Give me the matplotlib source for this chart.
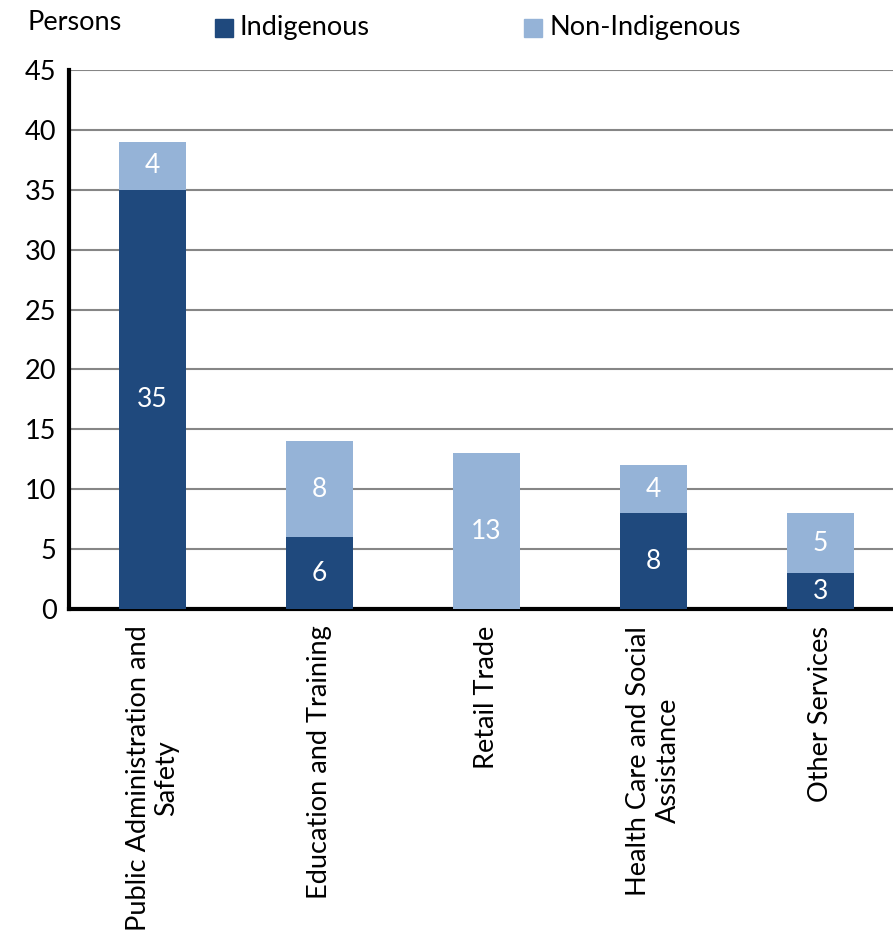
import matplotlib.pyplot as plt
from matplotlib.patches import Rectangle
import numpy as np

plt.rcParams['font.family'] = ['Lato', 'DejaVu Sans']

categories = ['Public Administration and\nSafety', 'Education and Training', 'Retail Trade',
              'Health Care and Social\nAssistance', 'Other Services']
indigenous = [35, 6, 0, 8, 3]
non_indigenous = [4, 8, 13, 4, 5]

dark = '#1F497D'
light = '#95B3D7'

fig = plt.figure(figsize=(8.93, 9.36), dpi=100)
# axes runs a little past the right edge, as in the original
ax = fig.add_axes([69/893, 1 - 609/936, 835/893, 539/936])

x = np.arange(len(categories))
ax.bar(x, indigenous, width=0.4, color=dark, zorder=3)
ax.bar(x, non_indigenous, width=0.4, bottom=indigenous, color=light, zorder=3)

for i in range(len(categories)):
    if indigenous[i] > 0:
        ax.text(x[i], indigenous[i] / 2, str(indigenous[i]), ha='center', va='center',
                color='white', fontsize=19, zorder=4)
    if non_indigenous[i] > 0:
        ax.text(x[i], indigenous[i] + non_indigenous[i] / 2, str(non_indigenous[i]),
                ha='center', va='center', color='white', fontsize=19, zorder=4)

ax.set_xlim(-0.5, len(categories) - 0.5)
ax.set_ylim(0, 45)
ax.set_yticks(range(0, 46, 5))
ax.yaxis.grid(True, color='#868686', linewidth=1.5, zorder=0)
ax.tick_params(axis='y', length=0, labelsize=19.5, pad=9)
ax.tick_params(axis='x', length=0, labelsize=19.5, pad=12)
ax.set_xticks(x)
ax.set_xticklabels(categories, rotation=90, va='top', ha='center', multialignment='center')
for s in ['top', 'right']:
    ax.spines[s].set_visible(False)
for s in ['left', 'bottom']:
    ax.spines[s].set_linewidth(3)

fig.text(28/893, 1 - 22/936, 'Persons', fontsize=19.5, va='center', ha='left')
fig.patches.append(Rectangle((215/893, 1 - 37/936), 18/893, 18/936, color=dark,
                             transform=fig.transFigure, figure=fig))
fig.text(240/893, 1 - 28/936, 'Indigenous', fontsize=19.5, va='center', ha='left')
fig.patches.append(Rectangle((524/893, 1 - 37/936), 18/893, 18/936, color=light,
                             transform=fig.transFigure, figure=fig))
fig.text(549/893, 1 - 28/936, 'Non-Indigenous', fontsize=19.5, va='center', ha='left')

fig.savefig('out.png', dpi=100)
